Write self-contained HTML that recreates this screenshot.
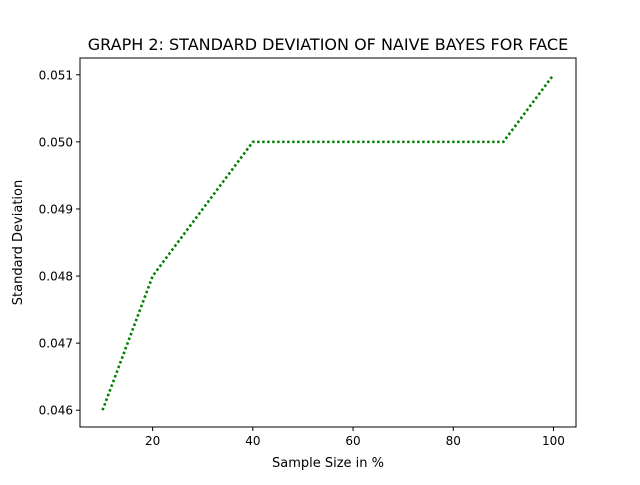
<!DOCTYPE html>
<html><head><meta charset="utf-8"><style>
body{margin:0;background:#fff;}
svg text{font-family:"DejaVu Sans","Liberation Sans",sans-serif;fill:#000;}
</style></head><body>
<svg id="chart" width="640" height="480">
<rect width="640" height="480" fill="#fff"/>
<text x="328" y="50" font-size="16" text-anchor="middle">GRAPH 2: STANDARD DEVIATION OF NAIVE BAYES FOR FACE</text>
<g id="ticks"></g>
<polyline id="line" fill="none" stroke="#008000" stroke-width="2.6" stroke-dasharray="2.5,2.5"/>
<rect x="80" y="58" width="496" height="369" fill="none" stroke="#000" stroke-width="1"/>
<text x="328" y="467" font-size="13" text-anchor="middle">Sample Size in %</text>
<text x="0" y="0" font-size="13" text-anchor="middle" transform="translate(22,242.5) rotate(-90)">Standard Deviation</text>
</svg>
<script>
const sampleSizes=[10,20,30,40,50,60,70,80,90,100];
const stdDevs=[0.046,0.048,0.049,0.050,0.050,0.050,0.050,0.050,0.050,0.051];
const xTicks=[20,40,60,80,100];
const yTicks=[0.046,0.047,0.048,0.049,0.050,0.051];
const L=80,R=576,T=58,B=427;
const xmin=Math.min(...sampleSizes),xmax=Math.max(...sampleSizes);
const ymin=Math.min(...stdDevs),ymax=Math.max(...stdDevs);
const xm=(xmax-xmin)*0.05,ym=(ymax-ymin)*0.05;
const X=v=>L+(v-(xmin-xm))/((xmax+xm)-(xmin-xm))*(R-L);
const Y=v=>B-(v-(ymin-ym))/((ymax+ym)-(ymin-ym))*(B-T);
const ns='http://www.w3.org/2000/svg';
const g=document.getElementById('ticks');
function mk(tag,attrs){const e=document.createElementNS(ns,tag);for(const k in attrs)e.setAttribute(k,attrs[k]);g.appendChild(e);return e;}
xTicks.forEach(t=>{
 const l=mk('line',{x1:X(t),x2:X(t),y1:B,y2:B+4,stroke:'#000'});
 
 
 const s=mk('text',{x:X(t),y:B+18,'font-size':12,'text-anchor':'middle'});
 s.textContent=t;
 
 
});
yTicks.forEach(t=>{
 const l=mk('line',{x1:L-4,x2:L,y1:Y(t),y2:Y(t),stroke:'#000'});
 
 
 const s=mk('text',{x:L-7,y:Y(t)+4.5,'font-size':12,'text-anchor':'end'});
 s.textContent=t.toFixed(3);
 
 
});
document.getElementById('line').setAttribute('points',sampleSizes.map((x,i)=>X(x)+','+Y(stdDevs[i])).join(' '));
</script>
</body></html>
